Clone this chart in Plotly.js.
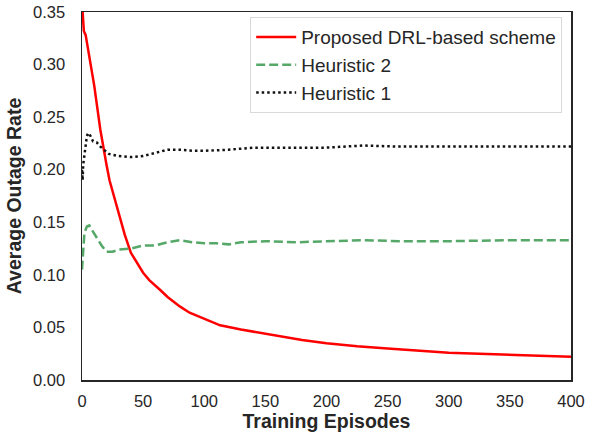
<!DOCTYPE html>
<html>
<head>
<meta charset="utf-8">
<script src="https://cdn.plot.ly/plotly-3.0.1.min.js"></script>
<style>
html, body { margin: 0; padding: 0; background: #fff; }
#chart { width: 593px; height: 433px; }
</style>
</head>
<body>
<div id="chart"></div>
<script>
// Proposed DRL-based scheme
const drlX = [0, 1.5, 3, 5, 10, 15, 17.5, 20, 22.5, 27, 30, 35, 40, 45, 50, 55, 60, 64, 70, 80, 88, 100, 113, 130, 154, 180, 200, 225, 250, 275, 300, 325, 350, 375, 400];
const drlY = [0.36, 0.332, 0.328, 0.315, 0.28, 0.238, 0.22, 0.205, 0.19, 0.171, 0.158, 0.138, 0.121, 0.111, 0.102, 0.095, 0.090, 0.0856, 0.079, 0.070, 0.064, 0.058, 0.052, 0.048, 0.043, 0.038, 0.035, 0.032, 0.030, 0.028, 0.026, 0.025, 0.024, 0.023, 0.022];

// Heuristic 2
const h2X = [0, 1, 2, 4, 6, 8, 12, 16, 20, 25, 30, 40, 50, 60, 70, 80, 90, 100, 110, 120, 130, 150, 175, 200, 230, 260, 300, 350, 400];
const h2Y = [0.105, 0.12, 0.14, 0.146, 0.147, 0.143, 0.135, 0.128, 0.122, 0.122, 0.124, 0.125, 0.128, 0.128, 0.131, 0.133, 0.131, 0.130, 0.130, 0.129, 0.131, 0.132, 0.131, 0.132, 0.133, 0.132, 0.132, 0.133, 0.133];

// Heuristic 1
const h1X = [0, 0.5, 1, 2.5, 4, 5, 7, 9, 12, 15, 18, 22, 30, 40, 50, 60, 70, 80, 90, 100, 120, 140, 160, 180, 200, 230, 260, 300, 350, 400];
const h1Y = [0.2, 0.19, 0.205, 0.22, 0.232, 0.235, 0.232, 0.227, 0.226, 0.222, 0.219, 0.215, 0.213, 0.212, 0.213, 0.216, 0.219, 0.219, 0.218, 0.218, 0.219, 0.221, 0.221, 0.221, 0.221, 0.223, 0.222, 0.222, 0.222, 0.222];

const xTicks = [0, 50, 100, 150, 200, 250, 300, 350, 400];
const yTicks = [0, 0.05, 0.10, 0.15, 0.20, 0.25, 0.30, 0.35];

const traces = [
  { x: drlX, y: drlY, mode: 'lines', name: 'Proposed DRL-based scheme',
    line: { color: '#ff0000', width: 2.5 } },
  { x: h2X, y: h2Y, mode: 'lines', name: 'Heuristic 2',
    line: { color: '#55a868', width: 2.5, dash: '9px,4px' } },
  { x: h1X, y: h1Y, mode: 'lines', name: 'Heuristic 1',
    line: { color: '#111111', width: 2.5, dash: '2.5px,3px' } }
];

const font = 'Liberation Sans, Arial, sans-serif';

const layout = {
  width: 593, height: 433,
  margin: { l: 82, r: 22, t: 12, b: 53 },
  paper_bgcolor: '#ffffff', plot_bgcolor: '#ffffff',
  showlegend: true,
  font: { family: font, color: '#262626' },
  xaxis: {
    range: [0, 400], tickvals: xTicks,
    ticks: 'outside', ticklen: 6, tickcolor: 'rgba(0,0,0,0)',
    showgrid: false, zeroline: false,
    showline: true, mirror: true, linecolor: '#262626', linewidth: 1.5,
    tickfont: { family: font, size: 16.5, color: '#262626' },
    title: { text: '<b>Training Episodes</b>', font: { family: font, size: 19.5, color: '#262626' }, standoff: 4 }
  },
  yaxis: {
    range: [0, 0.35], tickvals: yTicks, tickformat: '.2f',
    ticks: 'outside', ticklen: 12, tickcolor: 'rgba(0,0,0,0)',
    showgrid: false, zeroline: false,
    showline: true, mirror: true, linecolor: '#262626', linewidth: 1.5,
    tickfont: { family: font, size: 16.5, color: '#262626' },
    title: { text: '<b>Average Outage Rate</b>', font: { family: font, size: 19.5, color: '#262626' }, standoff: 6 }
  },
  legend: {
    x: 0.982, y: 0.986, xanchor: 'right', yanchor: 'top',
    bgcolor: '#ffffff', bordercolor: '#d9d9d9', borderwidth: 1,
    font: { family: font, size: 19, color: '#262626' },
    itemwidth: 40, tracegroupgap: 0
  }
};

Plotly.newPlot('chart', traces, layout, { displayModeBar: false, staticPlot: true });
</script>
</body>
</html>
